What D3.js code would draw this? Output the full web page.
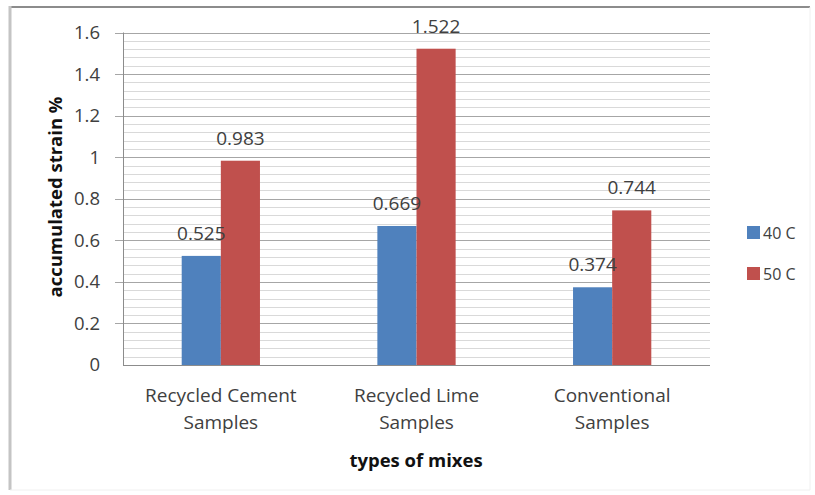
<!DOCTYPE html>
<html>
<head>
<meta charset="utf-8">
<script src="https://cdn.jsdelivr.net/npm/d3@7"></script>
<style>
  body { margin: 0; background: #fff; }
  text { font-family: "Open Sans", "Liberation Sans", sans-serif; }
</style>
</head>
<body>
<svg id="chart" width="815" height="495"></svg>
<script>
const categories = [["Recycled Cement", "Samples"], ["Recycled Lime", "Samples"], ["Conventional", "Samples"]];
const seriesNames = ["40 C", "50 C"];
const values40 = [0.525, 0.669, 0.374];
const values50 = [0.983, 1.522, 0.744];
const yTicks = [0, 0.2, 0.4, 0.6, 0.8, 1, 1.2, 1.4, 1.6];
const colors = ["#4F81BD", "#C0504D"];

(function () {
const svg = d3.select("#chart");
const pLeft = 123, pRight = 710, pTop = 32.5, pBottom = 365;

// outer frame
svg.append("line").attr("x1", 10).attr("x2", 810).attr("y1", 7).attr("y2", 7).attr("stroke", "#8c8c8c").attr("stroke-width", 2);
svg.append("line").attr("x1", 10).attr("x2", 10).attr("y1", 6).attr("y2", 490).attr("stroke", "#c4c4c4").attr("stroke-width", 3);
svg.append("line").attr("x1", 810).attr("x2", 810).attr("y1", 7).attr("y2", 490).attr("stroke", "#f0f0f0").attr("stroke-width", 1);
svg.append("line").attr("x1", 10).attr("x2", 810).attr("y1", 490).attr("y2", 490).attr("stroke", "#f0f0f0").attr("stroke-width", 1);

const names = categories.map(c => c.join(" "));
const x0 = d3.scaleBand().domain(names).range([pLeft, pRight]).paddingInner(0.6).paddingOuter(0.3);
const x1 = d3.scaleBand().domain(seriesNames).range([0, x0.bandwidth()]);
const y = d3.scaleLinear().domain([0, 1.6]).range([pBottom, pTop]);

// minor gridlines
const minor = d3.range(0, 1.6001, 0.04).filter(v => Math.abs(Math.round(v / 0.2) * 0.2 - v) > 1e-6);
svg.append("g").selectAll("line").data(minor).join("line")
  .attr("x1", pLeft).attr("x2", pRight)
  .attr("y1", d => Math.round(y(d)) + 0.5).attr("y2", d => Math.round(y(d)) + 0.5)
  .attr("stroke", "#d9d9d9").attr("stroke-width", 1);

// major gridlines
svg.append("g").selectAll("line").data(yTicks.filter(d => d > 0)).join("line")
  .attr("x1", pLeft - 8).attr("x2", pRight)
  .attr("y1", d => Math.round(y(d)) + 0.5).attr("y2", d => Math.round(y(d)) + 0.5)
  .attr("stroke", "#a6a6a6").attr("stroke-width", 1);

// y axis line
svg.append("line").attr("x1", pLeft + 0.5).attr("x2", pLeft + 0.5).attr("y1", y(1.6)).attr("y2", pBottom)
  .attr("stroke", "#8c8c8c");

// y tick labels
svg.append("g").selectAll("text").data(yTicks).join("text")
  .attr("x", 100).attr("y", d => y(d)).attr("dy", "0.35em")
  .attr("text-anchor", "end").attr("font-size", 18.5).attr("fill", "#404040")
  .text(d => d3.format("")(d));

// bars
const data = names.map((n, i) => ({ name: n, vals: [values40[i], values50[i]] }));
const groups = svg.append("g").selectAll("g").data(data).join("g")
  .attr("transform", d => `translate(${x0(d.name)},0)`);
groups.selectAll("rect").data(d => d.vals.map((v, j) => ({ s: seriesNames[j], v, j }))).join("rect")
  .attr("x", d => x1(d.s)).attr("width", x1.bandwidth())
  .attr("y", d => y(d.v)).attr("height", d => pBottom - y(d.v))
  .attr("fill", d => colors[d.j]);
groups.selectAll("text").data(d => d.vals.map((v, j) => ({ s: seriesNames[j], v, j }))).join("text")
  .attr("x", d => x1(d.s) + x1.bandwidth() / 2).attr("y", d => y(d.v) - 16)
  .attr("text-anchor", "middle").attr("font-size", 19).attr("fill", "#404040")
  .text(d => d.v);

// x axis line
svg.append("line").attr("x1", pLeft).attr("x2", pRight).attr("y1", pBottom + 0.5).attr("y2", pBottom + 0.5)
  .attr("stroke", "#8c8c8c");

// category labels
const cl = svg.append("g").selectAll("text").data(categories).join("text")
  .attr("text-anchor", "middle").attr("font-size", 19).attr("fill", "#404040")
  .attr("x", (d, i) => x0(names[i]) + x0.bandwidth() / 2).attr("y", 402);
cl.selectAll("tspan").data(d => d).join("tspan")
  .attr("x", function () { return d3.select(this.parentNode).attr("x"); })
  .attr("dy", (d, i) => i === 0 ? 0 : 27).text(d => d);

// axis titles
svg.append("text").attr("x", 416).attr("y", 467).attr("text-anchor", "middle")
  .attr("font-size", 18.5).attr("font-weight", "bold").attr("fill", "#111").text("types of mixes");
svg.append("text").attr("transform", "translate(62,197) rotate(-90)").attr("text-anchor", "middle")
  .attr("font-size", 18.5).attr("font-weight", "bold").attr("fill", "#111").text("accumulated strain %");

// legend
const lg = svg.append("g").selectAll("g").data(seriesNames).join("g")
  .attr("transform", (d, i) => `translate(747,${226 + i * 41})`);
lg.append("rect").attr("width", 13).attr("height", 13).attr("fill", (d, i) => colors[i]);
lg.append("text").attr("x", 16).attr("y", 7).attr("dy", "0.35em").attr("font-size", 16).attr("fill", "#404040").text(d => d);
})();
</script>
</body>
</html>
